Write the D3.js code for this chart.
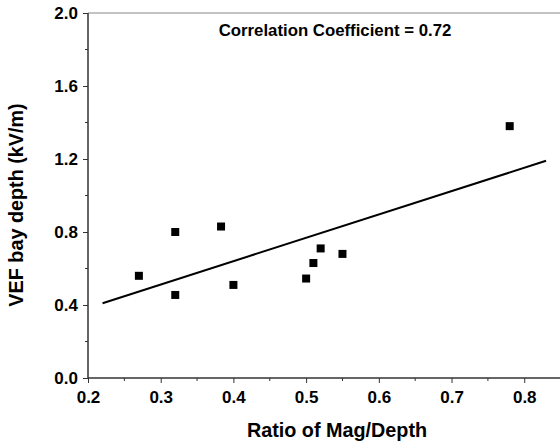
<!DOCTYPE html>
<html><head><meta charset="utf-8">
<script src="https://cdn.jsdelivr.net/npm/d3@7"></script>
<style>body{margin:0;background:#fff}svg{display:block;font-family:"Liberation Sans",Arial,sans-serif;font-weight:bold}</style>
</head><body>
<script>
const ratioX = [0.27, 0.32, 0.32, 0.383, 0.40, 0.50, 0.51, 0.52, 0.55, 0.78];
const vefY = [0.56, 0.80, 0.455, 0.83, 0.51, 0.545, 0.63, 0.71, 0.68, 1.38];
const fitX = [0.22, 0.83];
const fitY = [0.41, 1.19];
const xTicks = [0.2, 0.3, 0.4, 0.5, 0.6, 0.7, 0.8];
const yTicks = [0.0, 0.4, 0.8, 1.2, 1.6, 2.0];
const annotation = "Correlation Coefficient = 0.72";

const W = 560, H = 446;
const svg = d3.select("body").append("svg").attr("width", W).attr("height", H);
const x = d3.scaleLinear().domain([0.2, 0.85]).range([88, 560.6]);
const y = d3.scaleLinear().domain([0, 2.0]).range([378, 13]);

// top frame
svg.append("line").attr("x1", 88).attr("x2", W).attr("y1", 13).attr("y2", 13)
  .attr("stroke", "#888").attr("stroke-width", 1);

const axisColor = "#333";
const tickFont = 17;
// x axis
const gx = svg.append("g").attr("transform", "translate(0,378)");
gx.append("line").attr("x1", 88).attr("x2", W).attr("stroke", axisColor).attr("stroke-width", 1.5);
gx.selectAll(".minor").data(d3.range(0.25, 0.85, 0.1)).enter().append("line")
  .attr("x1", d => x(d)).attr("x2", d => x(d)).attr("y1", 0).attr("y2", 3).attr("stroke", axisColor);
gx.call(g => {
  const ax = d3.axisBottom(x).tickValues(xTicks).tickFormat(d3.format(".1f")).tickSize(5).tickPadding(8);
  const a = g.append("g").call(ax);
  a.select(".domain").remove();
  a.selectAll("line").attr("stroke", axisColor);
  a.selectAll("text").attr("font-size", tickFont).attr("font-weight", "bold").attr("fill", "#000")
    .attr("font-family", "Liberation Sans, Arial, sans-serif");
});

// y axis
const gy = svg.append("g").attr("transform", "translate(88,0)");
gy.append("line").attr("y1", 13).attr("y2", 378).attr("stroke", axisColor).attr("stroke-width", 1.5);
gy.selectAll(".minor").data(d3.range(0.2, 2.0, 0.4)).enter().append("line")
  .attr("y1", d => y(d)).attr("y2", d => y(d)).attr("x1", 0).attr("x2", -3).attr("stroke", axisColor);
gy.call(g => {
  const ax = d3.axisLeft(y).tickValues(yTicks).tickFormat(d3.format(".1f")).tickSize(5).tickPadding(5);
  const a = g.append("g").call(ax);
  a.select(".domain").remove();
  a.selectAll("line").attr("stroke", axisColor);
  a.selectAll("text").attr("font-size", tickFont).attr("font-weight", "bold").attr("fill", "#000")
    .attr("font-family", "Liberation Sans, Arial, sans-serif");
});

// fit line
svg.append("path").datum(fitX.map((d, i) => [d, fitY[i]]))
  .attr("d", d3.line().x(d => x(d[0])).y(d => y(d[1])))
  .attr("fill", "none").attr("stroke", "#000").attr("stroke-width", 2);

// points
const s = 8;
svg.selectAll(".pt").data(ratioX.map((d, i) => [d, vefY[i]])).enter().append("rect")
  .attr("x", d => x(d[0]) - s / 2).attr("y", d => y(d[1]) - s / 2)
  .attr("width", s).attr("height", s).attr("fill", "#000");

// annotation
svg.append("text").attr("x", 335).attr("y", 36).attr("text-anchor", "middle")
  .attr("font-size", 16.8).text(annotation);

// axis titles
svg.append("text").attr("x", 337).attr("y", 437).attr("text-anchor", "middle")
  .attr("font-size", 19.8).text("Ratio of Mag/Depth");
svg.append("text").attr("transform", "translate(23,205) rotate(-90)").attr("text-anchor", "middle")
  .attr("font-size", 19.8).text("VEF bay depth (kV/m)");
</script>
</body></html>
